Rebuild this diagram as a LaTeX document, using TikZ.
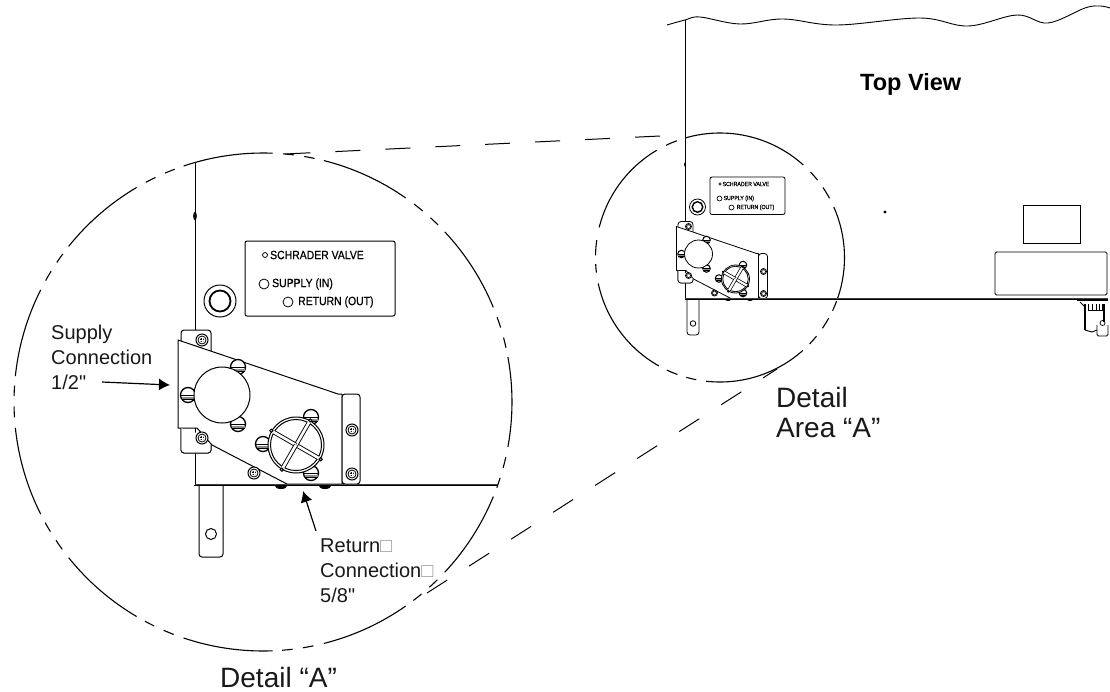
\documentclass[tikz,border=0pt]{standalone}
\usepackage{fontspec}
\setmainfont{Liberation Sans}
\newfontfamily\plainquote{Liberation Sans}
\tikzset{
  x=1pt,y=1pt,
  part/.style={draw=black,line width=\kk pt,fill=white},
  thin part/.style={draw=black,line width=\kk pt},
  lbl/.style={font=\fontsize{20}{25}\selectfont,inner sep=0pt,align=left,text=black!90},
  biglbl/.style={font=\fontsize{28}{30}\selectfont,inner sep=0pt,text=black!90},
  plate/.style={font=\fontsize{12}{12}\selectfont\addfontfeature{FakeBold=.6},inner sep=0pt,anchor=west,xscale=.87,transform shape},
  arrowline/.style={draw=black,line width=1.2pt,-{Latex[length=11pt,width=12pt]}},
  dashline/.style={draw=black,line width=1pt},
  zoomarc/.style={draw=black,line width=1.1pt,line cap=butt}
}
\usetikzlibrary{arrows.meta}
\newcommand{\phscrew}[2]{%
  \draw[part] (#1,#2) circle (6);
  \draw[part,line width=.8*\kk pt] (#1,#2) circle (4);
  \fill[black] (#1,#2) circle (2);
  \draw[white,line width=.3pt] (#1-2,#2) -- (#1+2,#2) (#1,#2-2) -- (#1,#2+2);
}
\newcommand{\slotscrew}[2]{%
  \draw[part,line width=1.3*\kk pt] (#1,#2) circle (7.5);
  \fill[black!45] (#1-6.5,#2-1.5) rectangle (#1+6.5,#2-4);
  \draw[black,line width=.8*\kk pt] (#1-7,#2) -- (#1+7,#2) (#1-6.5,#2-4) -- (#1+6.5,#2-4);
}
% #1 scale, #2 x origin, #3 y origin, #4 vertical top, #5 horizontal right, #6 line factor
\newcommand{\detailpic}[6]{%
\def\kk{#6}%
\begin{scope}[shift={(#2,-#3)},scale=#1]
  % housing edges
  \draw[thin part] (0,#4) -- (0,0);
  \fill[black] (0,269) ellipse (1.8 and 4.5);
  % nameplate
  \draw[part,rounded corners=2] (50,244) rectangle (200,169);
  \draw[thin part,line width=.8*\kk pt] (70,230) circle (2.5);
  \node[plate] (sv) at (75,230) {SCHRADER VALVE};
  \draw[thin part,line width=.8*\kk pt] (69,201) circle (5);
  \node[plate] (si) at (77,201) {SUPPLY (IN)};
  \draw[thin part,line width=.8*\kk pt] (93,183) circle (5);
  \node[plate] (ro) at (103,183) {RETURN (OUT)};
  % schrader ring
  \draw[thin part] (25,184) circle (16);
  \draw[thin part,line width=1.8*\kk pt] (25,184) circle (10.5);
  % tabs
  \draw[part,rounded corners=3] (-14,140) -- (-14,155) -- (16,155) -- (16,130);
  \draw[part,rounded corners=3] (-14,60) -- (-14,32) -- (16,32) -- (16,44);
  % plate
  \draw[part,line join=round] (-17,145) -- (143,91) -- (147,91) -- (147,1) -- (92,1) -- (17,40) -- (2,57) -- (-17,57) -- cycle;
  \draw[part,rounded corners=3] (147,91) -- (165,91) -- (165,1) -- (147,1) -- cycle;
  \draw[part,line width=.9*\kk pt,rounded corners=3] (16,40) -- (16,32) -- (-14,32) -- (-14,57);
  % Phillips screws
  \phscrew{7}{145}\phscrew{7}{47}\phscrew{59}{12}\phscrew{157}{55}\phscrew{157}{11}
  % supply fitting
  \slotscrew{43}{118}\slotscrew{43}{61}\slotscrew{-7}{90}
  \draw[part] (27,90) circle (28);
  % return fitting
  \slotscrew{116}{68}\slotscrew{116}{12}\slotscrew{68}{41}
  \draw[part] (101,40) circle (28);
  \draw[thin part] (101,40) circle (25.5);
  \foreach \a in {-30,60,150,240}{
    \draw[part] (101,40)++(\a:28.5) circle (1.6);
    \draw[black,line width=4.4*\kk pt] (101,40) -- ++(\a:25.5);
    \draw[white,line width=2.6*\kk pt] (101,40) -- ++(\a:26);
  }
  % mounting post and base line
  \draw[part,rounded corners=3] (4,0) -- (4,-72) -- (28,-72) -- (28,0);
  \draw[thin part] (16,-49) circle (5.5);
  \fill[black] (86,-1) -- (80,-1) arc[start angle=180,end angle=360,x radius=6,y radius=3] -- cycle;
  \fill[black] (130,-1) -- (124,-1) arc[start angle=180,end angle=360,x radius=6,y radius=3] -- cycle;
  \draw[black!75,line width=2.2*\kk pt] (0,0) -- (#5,0);
  \draw[black,line width=.8*\kk pt] (-1,-.6) -- (#5,-.6);
\end{scope}}
\newcommand{\bigarc}[2]{\draw[zoomarc] (263,-402) ++(#1:249) arc[start angle=#1,end angle=#2,radius=249];}
\newcommand{\smlarc}[2]{\draw[zoomarc] (720,-257.5) ++(#1:124.5) arc[start angle=#1,end angle=#2,radius=124.5];}
\begin{document}
\begin{tikzpicture}
\path[use as bounding box,fill=white] (0,0) rectangle (1110,-691);
% big detail
\detailpic{1}{195}{485}{322}{303}{1}
% small detail in the top view
\detailpic{.5}{685}{299}{558}{846}{.8}
% wavy break line
\draw[black,line width=.9pt] plot[smooth,tension=.6] coordinates {(667,-25) (685,-20) (700,-17) (740,-24) (783,-19) (837,-25) (920,-18) (968,-26) (1017,-15) (1048,-23) (1085,-8) (1100,-6) (1110,-8)};
% top view outlines
\draw[black,line width=.9pt] (1023,-205) rectangle (1080,-243);
\draw[black,line width=.9pt,rounded corners=1.5] (995,-252) rectangle (1107,-295);
\fill[black] (885,-212) circle (1.7);
% right-hand bracket
\draw[black,line width=1.6pt] (1077,-300) -- (1108,-300);
\draw[black,line width=.9pt] (1080,-302) -- (1085,-307);
\draw[black,line width=1.2pt] (1085,-304) -- (1085,-330) (1104,-304) -- (1104,-322);
\draw[black,line width=.9pt] (1088,-304) -- (1088,-310) -- (1102,-310) -- (1102,-304) (1092,-304) -- (1092,-310) (1096,-304) -- (1096,-310) (1099,-304) -- (1099,-310);
\draw[black,line width=.9pt] (1085,-330) -- (1092,-332) -- (1097,-330);
\draw[black,line width=.8pt,rounded corners=1.5] (1097,-325) -- (1097,-336) -- (1108,-336) -- (1108,-325);
\draw[black,line width=.7pt] (1102.5,-323) circle (2.5);
% zoom circles
\foreach \a in {0,...,10}{
  \pgfmathsetmacro\aa{32.727*\a}
  \pgfmathsetmacro\sa{\aa-10.4}\pgfmathsetmacro\sb{\aa+10.4}
  \pgfmathsetmacro\da{\aa+12.6}\pgfmathsetmacro\db{\aa+15}
  \pgfmathsetmacro\dc{\aa+17.4}\pgfmathsetmacro\dd{\aa+19.9}
  \bigarc{\sa}{\sb}\bigarc{\da}{\db}\bigarc{\dc}{\dd}
}
\foreach \s/\e in {48/106,120.5/166,192/240.6,263.6/311.7,341/383.9,110.3/115.7,172/179,183/187,244.7/250,254.3/259,316/320.8,325.4/330.8,334.7/339.5,28.4/34.2,38.4/43.3}{\smlarc{\s}{\e}}
% tangent dashed lines
\coordinate (ta) at (660,-136);
\coordinate (tb) at (285,-154);
\coordinate (ba) at (427,-593);
\coordinate (bb) at (777,-369);
\draw[dashline,dash pattern=on 25pt off 25pt] (ta) -- (tb);
\draw[dashline,dash pattern=on 23.8pt off 26.1pt] (ba) -- (bb);
% labels
\node[font=\fontsize{23.5}{26}\bfseries\selectfont,inner sep=0pt,anchor=base west] (tv) at (860,-90) {Top View};
\node[lbl,anchor=north west] (sc) at (51,-325) {Supply\\Connection\\1/2{\plainquote"}};
\node[lbl,anchor=north west] (rc) at (320,-539) {Return{\color{black!40}□}\\Connection{\color{black!40}□}\\5/8{\plainquote"}};
\node[biglbl,text depth=0pt,anchor=base west] (da) at (220,-687) {Detail “A”};
\node[biglbl,anchor=base west] (dr) at (776,-407) {Detail};
\node[biglbl,anchor=base west] (dr2) at (776,-437) {Area “A”};
% arrows
\coordinate (s0) at (102,-382);
\coordinate (s1) at (170,-385);
\coordinate (r0) at (316,-531);
\coordinate (r1) at (303,-491);
\draw[arrowline] (s0) -- (s1);
\draw[arrowline] (r0) -- (r1);
\end{tikzpicture}
\end{document}
